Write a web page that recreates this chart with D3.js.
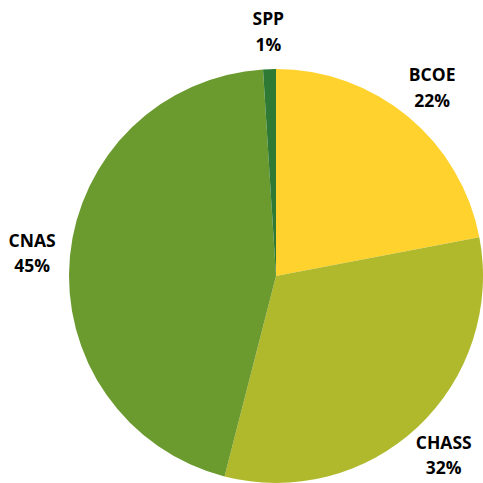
<!DOCTYPE html>
<html><head><meta charset="utf-8">
<script src="https://cdn.jsdelivr.net/npm/d3@7"></script>
<style>html,body{margin:0;padding:0;background:#fff;}svg{display:block;}</style>
</head><body>
<svg id="c" width="483" height="483"></svg>
<script>
const categories = ["BCOE", "CHASS", "CNAS", "SPP"];
const values = [22, 32, 45, 1];
const labels = ["22%", "32%", "45%", "1%"];
const colors = ["#FFD22E", "#B0B82B", "#6B9A2F", "#2E7A35"];

const svg = d3.select("#c");
const cx = 276, cy = 276, R = 207, LR = 245;
const g = svg.append("g").attr("transform", `translate(${cx},${cy})`);
const pie = d3.pie().sort(null).value(d => d)(values);
const arc = d3.arc().innerRadius(0).outerRadius(R);
const larc = d3.arc().innerRadius(LR).outerRadius(LR);

g.selectAll("path").data(pie).join("path")
  .attr("d", arc)
  .attr("fill", (d, i) => colors[i]);

const t = g.selectAll("text.l").data(pie).join("text")
  .attr("class", "l")
  .attr("text-anchor", "middle")
  .attr("font-family", "'Open Sans', sans-serif")
  .attr("font-weight", "bold")
  .attr("font-size", "17.5px")
  .attr("fill", "#000")
  .attr("transform", d => { const c = larc.centroid(d); return `translate(${c[0]},${c[1]})`; });
t.append("tspan").attr("x", 0).attr("y", -6).text((d, i) => categories[i]);
t.append("tspan").attr("x", 0).attr("y", 19.5).text((d, i) => labels[i]);
</script>
</body></html>
